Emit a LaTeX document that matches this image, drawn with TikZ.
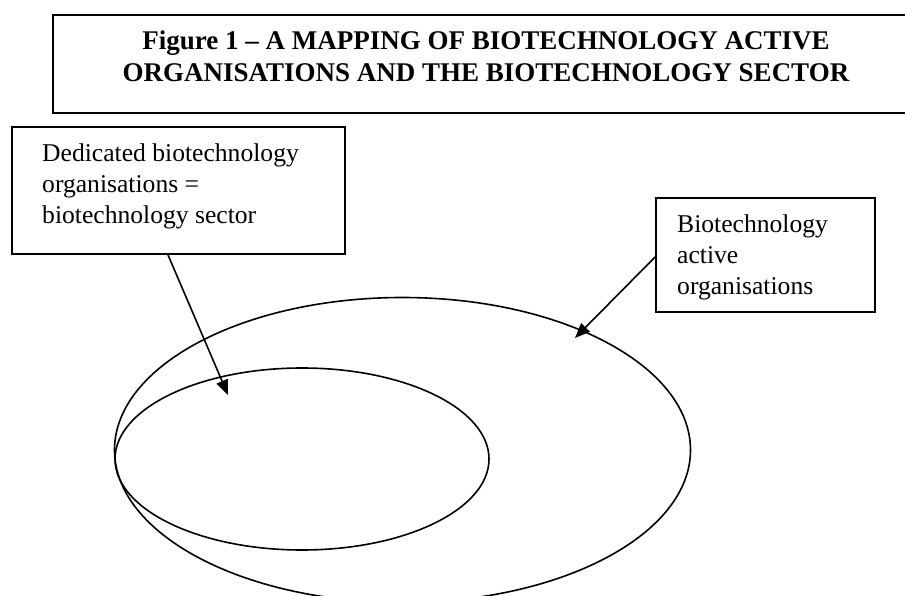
\documentclass[tikz,border=0pt]{standalone}
\usepackage{fontspec}
\setmainfont{Liberation Serif}
\usetikzlibrary{arrows.meta,shapes.geometric}
\tikzset{
  titlebox/.style={draw, line width=2.4pt, minimum width=866pt, minimum height=98pt, inner sep=0pt},
  labelbox/.style={draw, line width=1.8pt, inner sep=0pt},
  labeltext/.style={inner sep=0pt, font=\fontsize{25.6}{31}\selectfont},
  ring/.style={draw, ellipse, line width=1.6pt, inner sep=0pt},
  pointer/.style={line width=1.6pt, -{Triangle[length=15pt,width=12pt]}}
}
\begin{document}
\begin{tikzpicture}[x=1pt,y=-1pt]
\useasboundingbox (0,0) rectangle (905,596);
\clip (0,0) rectangle (905,596);
\fill[white] (0,0) rectangle (905,596);
% title
\node[titlebox] (title) at (486,64) {};
\node[inner sep=0pt, anchor=base, font=\fontsize{27}{32}\selectfont\bfseries] (titletext) at (486,50)
  {\begin{tabular}[t]{@{}c@{}}Figure 1 – A MAPPING OF BIOTECHNOLOGY ACTIVE\\ORGANISATIONS AND THE BIOTECHNOLOGY SECTOR\end{tabular}};
% label boxes
\node[labelbox, minimum width=333pt, minimum height=127pt] (ded) at (178.5,190.5) {};
\node[labeltext, anchor=base west] (dedtext) at (42,162)
  {\begin{tabular}[t]{@{}l@{}}Dedicated biotechnology\\organisations =\\biotechnology sector\end{tabular}};
\node[labelbox, minimum width=219pt, minimum height=114pt] (act) at (765.5,255) {};
\node[labeltext, anchor=base west] (acttext) at (677,233)
  {\begin{tabular}[t]{@{}l@{}}Biotechnology\\active\\organisations\end{tabular}};
% ellipses
\node[ring, minimum width=576pt, minimum height=305pt] (outer) at (402.5,450) {};
\node[ring, minimum width=374pt, minimum height=182pt] (inner) at (302,459) {};
% pointers
\coordinate (tipded) at (228,395);
\coordinate (tipact) at (575,338);
\draw[pointer] ([xshift=-10.5pt]ded.south) -- (tipded);
\draw[pointer] ([yshift=-2pt]act.west) -- (tipact);
\end{tikzpicture}
\end{document}
